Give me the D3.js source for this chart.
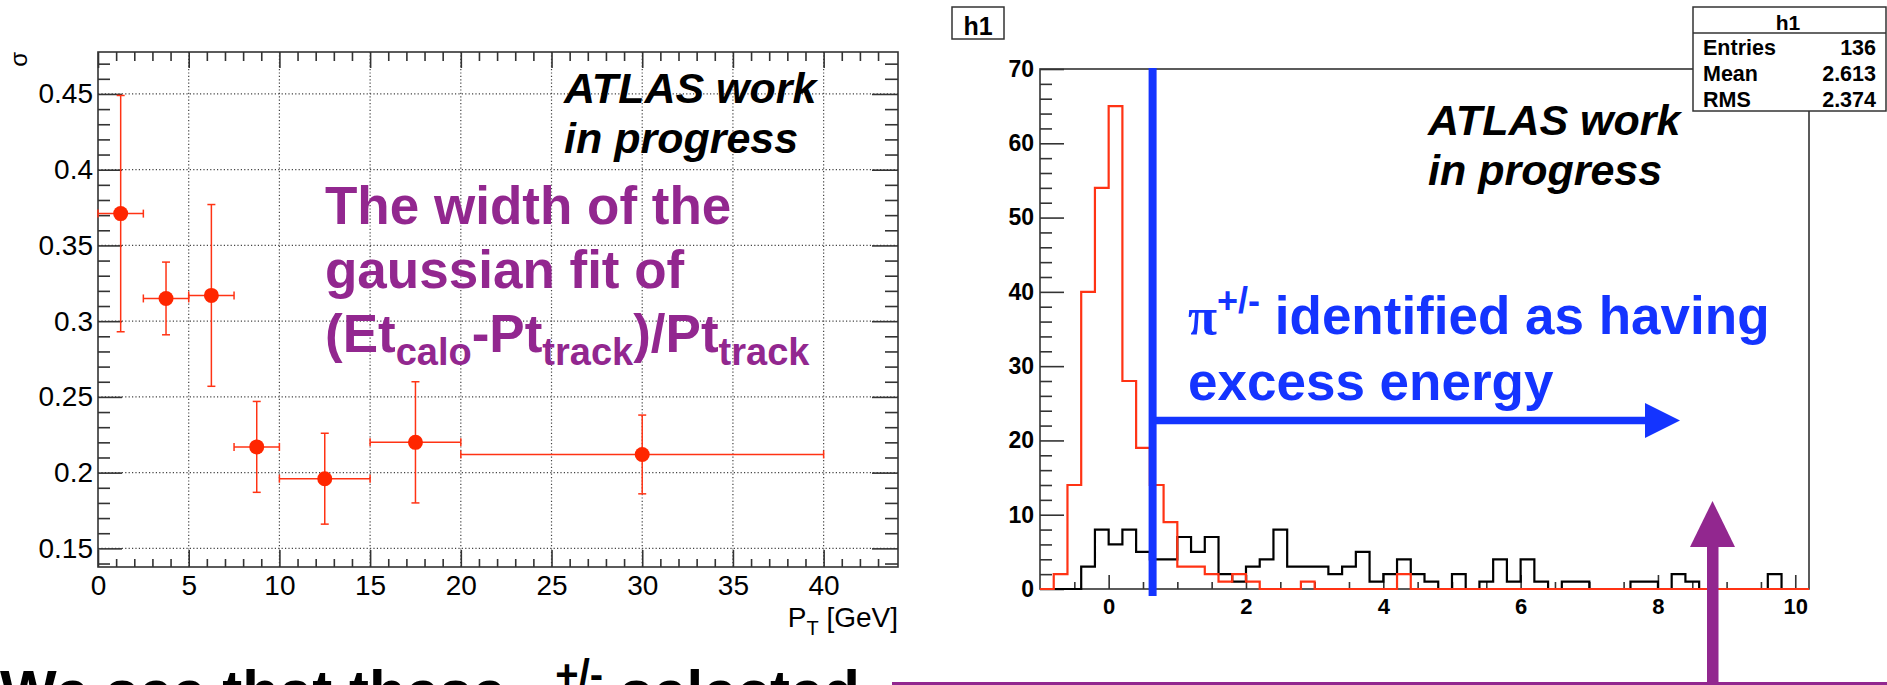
<!DOCTYPE html>
<html>
<head>
<meta charset="utf-8">
<script src="https://cdn.jsdelivr.net/npm/d3@7"></script>
<style>
  html, body { margin: 0; padding: 0; background: #fff; overflow: hidden; }
  svg { display: block; font-family: "Liberation Sans", Arial, sans-serif; }
</style>
</head>
<body>
<svg id="c" width="1887" height="685"></svg>
<script>
// ---- sigma of the gaussian fit, per pT bin ----
const ptCenters    = [1.25, 3.75, 6.25, 8.75, 12.5, 17.5, 30];
const ptHalfWidths = [1.25, 1.25, 1.25, 1.25, 2.5, 2.5, 10];
const sigmaValues  = [0.371, 0.315, 0.317, 0.217, 0.196, 0.220, 0.212];
const sigmaErrors  = [0.078, 0.024, 0.060, 0.030, 0.030, 0.040, 0.026];
const ptTicks      = [0, 5, 10, 15, 20, 25, 30, 35, 40];
const sigmaTicks   = [0.15, 0.2, 0.25, 0.3, 0.35, 0.4, 0.45];

// ---- h1: 0.2-wide bins from -1 to 10.2 ----
const histRange   = [-1, 10.2];
const redCounts   = [0, 2, 14, 40, 54, 65, 28, 19, 14, 9, 3, 3, 2, 1, 2, 1, 0, 0, 0, 1,
                     0, 0, 0, 0, 0, 0, 2, 0, 0, 0, 0, 0, 0, 0, 0, 0, 0, 0, 0, 0,
                     0, 0, 0, 0, 0, 0, 0, 0, 0, 0, 0, 0, 0, 0, 0, 0];
const blackCounts = [0, 0, 0, 3, 8, 6, 8, 5, 4, 4, 7, 5, 7, 2, 1, 3, 4, 8, 3, 3,
                     3, 2, 3, 5, 1, 2, 4, 2, 1, 0, 2, 0, 1, 4, 1, 4, 1, 0, 1, 1,
                     0, 0, 0, 1, 1, 0, 2, 1, 0, 0, 0, 0, 0, 2, 0, 0];
const histYTicks  = [0, 10, 20, 30, 40, 50, 60, 70];
const histXTicks  = [0, 2, 4, 6, 8, 10];
const statsRows   = [["Entries", "136"], ["Mean", "2.613"], ["RMS", "2.374"]];
const cutValue    = 0.64;   // selection threshold marked on h1

const RED = "#ff3314", PURPLE = "#92278f", BLUE = "#1434ff", FRAME = "#333";

const svg = d3.select("#c");
svg.append("rect").attr("width", 1887).attr("height", 685).attr("fill", "#fff");

// =================== left panel ===================
const L = { x0: 98, x1: 898, y0: 52, y1: 567 };
const xL = d3.scaleLinear().domain([0, 44.1]).range([L.x0, L.x1]);
const yL = d3.scaleLinear().domain([0.1377, 0.4777]).range([L.y1, L.y0]);

const left = svg.append("g");

// dotted grid
left.append("g").selectAll("line").data(ptTicks.filter(v => v > 0)).join("line")
  .attr("x1", d => xL(d)).attr("x2", d => xL(d)).attr("y1", L.y0).attr("y2", L.y1)
  .attr("stroke", "#444").attr("stroke-width", 1.2).attr("stroke-dasharray", "1.2,2.2");
left.append("g").selectAll("line").data(sigmaTicks).join("line")
  .attr("x1", L.x0).attr("x2", L.x1).attr("y1", d => yL(d)).attr("y2", d => yL(d))
  .attr("stroke", "#444").attr("stroke-width", 1.2).attr("stroke-dasharray", "1.2,2.2");

function styleAxis(g) {
  g.select(".domain").remove();
  g.selectAll(".tick line").attr("stroke", FRAME).attr("stroke-width", 1.6);
}
const minorPt = d3.range(1, 44, 1).filter(v => v % 5 !== 0);
const minorSigma = d3.range(14, 48, 1).map(v => v / 100).filter(v => Math.round(v * 100) % 5 !== 0);

// left y axis
left.append("g").attr("transform", `translate(${L.x0},0)`)
  .call(d3.axisLeft(yL).tickValues(sigmaTicks).tickSize(-24).tickPadding(5).tickFormat(d3.format("")))
  .call(styleAxis)
  .call(g => g.selectAll("text").attr("font-size", 28).attr("fill", "#000")
    .attr("font-family", "Liberation Sans, Arial, sans-serif"));
left.append("g").attr("transform", `translate(${L.x0},0)`)
  .call(d3.axisLeft(yL).tickValues(minorSigma).tickSize(-12).tickFormat(""))
  .call(styleAxis);
// right y axis
left.append("g").attr("transform", `translate(${L.x1},0)`)
  .call(d3.axisRight(yL).tickValues(sigmaTicks).tickSize(-26).tickFormat(""))
  .call(styleAxis);
left.append("g").attr("transform", `translate(${L.x1},0)`)
  .call(d3.axisRight(yL).tickValues(minorSigma).tickSize(-13).tickFormat(""))
  .call(styleAxis);
// bottom x axis
left.append("g").attr("transform", `translate(0,${L.y1})`)
  .call(d3.axisBottom(xL).tickValues(ptTicks).tickSize(-17).tickPadding(8).tickFormat(d3.format("d")))
  .call(styleAxis)
  .call(g => g.selectAll("text").attr("font-size", 28).attr("fill", "#000")
    .attr("font-family", "Liberation Sans, Arial, sans-serif"));
left.append("g").attr("transform", `translate(0,${L.y1})`)
  .call(d3.axisBottom(xL).tickValues(minorPt).tickSize(-8).tickFormat(""))
  .call(styleAxis);
// top x axis
left.append("g").attr("transform", `translate(0,${L.y0})`)
  .call(d3.axisTop(xL).tickValues(ptTicks).tickSize(-16).tickFormat(""))
  .call(styleAxis);
left.append("g").attr("transform", `translate(0,${L.y0})`)
  .call(d3.axisTop(xL).tickValues(minorPt).tickSize(-9).tickFormat(""))
  .call(styleAxis);

// frame
left.append("rect").attr("x", L.x0).attr("y", L.y0)
  .attr("width", L.x1 - L.x0).attr("height", L.y1 - L.y0)
  .attr("fill", "none").attr("stroke", FRAME).attr("stroke-width", 1.6);

// axis titles
left.append("text").attr("transform", `translate(27,${L.y0}) rotate(-90)`)
  .attr("text-anchor", "end").attr("font-size", 24).text("σ");
const xt = left.append("text").attr("x", L.x1).attr("y", 627).attr("text-anchor", "end")
  .attr("font-size", 28);
xt.append("tspan").text("P");
xt.append("tspan").attr("font-size", 20).attr("dy", 8).text("T");
xt.append("tspan").attr("dy", -8).text(" [GeV]");

// error bars and markers
const pts = ptCenters.map((x, i) => ({ x, hw: ptHalfWidths[i], y: sigmaValues[i], e: sigmaErrors[i] }));
const eb = left.append("g").attr("stroke", RED).attr("stroke-width", 1.5).attr("fill", "none");
const cap = 4;
pts.forEach(p => {
  const cx = xL(p.x), cy = yL(p.y);
  const xa = xL(p.x - p.hw), xb = xL(p.x + p.hw), ya = yL(p.y + p.e), yb = yL(p.y - p.e);
  eb.append("line").attr("x1", xa).attr("x2", xb).attr("y1", cy).attr("y2", cy);
  eb.append("line").attr("x1", cx).attr("x2", cx).attr("y1", ya).attr("y2", yb);
  eb.append("line").attr("x1", xa).attr("x2", xa).attr("y1", cy - cap).attr("y2", cy + cap);
  eb.append("line").attr("x1", xb).attr("x2", xb).attr("y1", cy - cap).attr("y2", cy + cap);
  eb.append("line").attr("x1", cx - cap).attr("x2", cx + cap).attr("y1", ya).attr("y2", ya);
  eb.append("line").attr("x1", cx - cap).attr("x2", cx + cap).attr("y1", yb).attr("y2", yb);
});
left.append("g").selectAll("circle").data(pts).join("circle")
  .attr("cx", d => xL(d.x)).attr("cy", d => yL(d.y)).attr("r", 7.5).attr("fill", "#ff2600");

// labels
const atlasL = left.append("text").attr("font-size", 43).attr("font-weight", "bold")
  .attr("font-style", "italic").attr("fill", "#000");
atlasL.append("tspan").attr("x", 564).attr("y", 103).text("ATLAS work");
atlasL.append("tspan").attr("x", 564).attr("y", 153).text("in progress");

const purple = left.append("text").attr("font-size", 53).attr("font-weight", "bold").attr("fill", PURPLE);
purple.append("tspan").attr("x", 325).attr("y", 224).text("The width of the");
purple.append("tspan").attr("x", 325).attr("y", 288).text("gaussian fit of");
const l3 = left.append("text").attr("x", 325).attr("y", 352).attr("font-size", 53)
  .attr("font-weight", "bold").attr("fill", PURPLE);
l3.append("tspan").text("(Et");
l3.append("tspan").attr("font-size", 38).attr("dy", 13).text("calo");
l3.append("tspan").attr("dy", -13).text("-Pt");
l3.append("tspan").attr("font-size", 38).attr("dy", 13).text("track");
l3.append("tspan").attr("dy", -13).text(")/Pt");
l3.append("tspan").attr("font-size", 38).attr("dy", 13).text("track");

// =================== right panel: h1 ===================
const H = { x0: 1040, x1: 1809, y0: 69, y1: 589 };
const xH = d3.scaleLinear().domain(histRange).range([H.x0, H.x1]);
const yH = d3.scaleLinear().domain([0, 70]).range([H.y1, H.y0]);
const binW = (histRange[1] - histRange[0]) / redCounts.length;

const right = svg.append("g");

// "h1" title box
right.append("rect").attr("x", 952).attr("y", 7).attr("width", 52).attr("height", 32)
  .attr("fill", "#fff").attr("stroke", FRAME).attr("stroke-width", 1.5);
right.append("text").attr("x", 978).attr("y", 35).attr("text-anchor", "middle")
  .attr("font-size", 25).attr("font-weight", "bold").text("h1");

svg.append("defs").append("clipPath").attr("id", "hclip")
  .append("rect").attr("x", H.x0).attr("y", H.y0 - 2).attr("width", H.x1 - H.x0).attr("height", H.y1 - H.y0 + 3);

// frame
right.append("rect").attr("x", H.x0).attr("y", H.y0)
  .attr("width", H.x1 - H.x0).attr("height", H.y1 - H.y0)
  .attr("fill", "none").attr("stroke", FRAME).attr("stroke-width", 1.6);

// axes
right.append("g").attr("transform", `translate(${H.x0},0)`)
  .call(d3.axisLeft(yH).tickValues(histYTicks).tickSize(-24).tickPadding(6).tickFormat(d3.format("d")))
  .call(styleAxis)
  .call(g => g.selectAll("text").attr("font-size", 23).attr("font-weight", "bold").attr("fill", "#000")
    .attr("font-family", "Liberation Sans, Arial, sans-serif"));
right.append("g").attr("transform", `translate(${H.x0},0)`)
  .call(d3.axisLeft(yH).tickValues(d3.range(2, 70, 2).filter(v => v % 10 !== 0)).tickSize(-12).tickFormat(""))
  .call(styleAxis);
right.append("g").attr("transform", `translate(0,${H.y1})`)
  .call(d3.axisBottom(xH).tickValues(histXTicks).tickSize(-14).tickPadding(9).tickFormat(d3.format("d")))
  .call(styleAxis)
  .call(g => g.selectAll("text").attr("font-size", 22).attr("font-weight", "bold").attr("fill", "#000")
    .attr("font-family", "Liberation Sans, Arial, sans-serif"));
right.append("g").attr("transform", `translate(0,${H.y1})`)
  .call(d3.axisBottom(xH).tickValues(d3.range(-0.5, 10.01, 0.5).filter(v => v % 2 !== 0)).tickSize(-7).tickFormat(""))
  .call(styleAxis);

// step outlines
function stepPoints(counts) {
  const p = counts.map((c, i) => [histRange[0] + i * binW, c]);
  p.push([histRange[1], counts[counts.length - 1]]);
  return p;
}
const step = d3.line().x(d => xH(d[0])).y(d => yH(d[1])).curve(d3.curveStepAfter);
const hg = right.append("g").attr("clip-path", "url(#hclip)");
hg.append("path").attr("d", step(stepPoints(blackCounts)))
  .attr("fill", "none").attr("stroke", "#000").attr("stroke-width", 2.2);
hg.append("path").attr("d", step(stepPoints(redCounts)))
  .attr("fill", "none").attr("stroke", RED).attr("stroke-width", 2.2);

// stats box
const sb = right.append("g");
sb.append("rect").attr("x", 1693).attr("y", 7).attr("width", 193).attr("height", 104)
  .attr("fill", "#fff").attr("stroke", FRAME).attr("stroke-width", 1.5);
sb.append("line").attr("x1", 1693).attr("x2", 1886).attr("y1", 33).attr("y2", 33)
  .attr("stroke", FRAME).attr("stroke-width", 1.5);
sb.append("text").attr("x", 1788).attr("y", 30).attr("text-anchor", "middle")
  .attr("font-size", 21).attr("font-weight", "bold").text("h1");
statsRows.forEach((r, i) => {
  const y = 55 + i * 26;
  sb.append("text").attr("x", 1703).attr("y", y).attr("font-size", 21.5).attr("font-weight", "bold").text(r[0]);
  sb.append("text").attr("x", 1876).attr("y", y).attr("text-anchor", "end")
    .attr("font-size", 21.5).attr("font-weight", "bold").text(r[1]);
});

// ATLAS label
const atlasR = right.append("text").attr("font-size", 43).attr("font-weight", "bold")
  .attr("font-style", "italic").attr("fill", "#000");
atlasR.append("tspan").attr("x", 1428).attr("y", 135).text("ATLAS work");
atlasR.append("tspan").attr("x", 1428).attr("y", 185).text("in progress");

// threshold line and arrow
const cutX = xH(cutValue);
right.append("line").attr("x1", cutX).attr("x2", cutX).attr("y1", H.y0 - 1).attr("y2", 596)
  .attr("stroke", BLUE).attr("stroke-width", 8);
right.append("line").attr("x1", cutX).attr("x2", 1646).attr("y1", 420.5).attr("y2", 420.5)
  .attr("stroke", BLUE).attr("stroke-width", 7.5);
right.append("path").attr("d", "M1645,403 L1680,420.5 L1645,438 Z").attr("fill", BLUE);

const blue1 = right.append("text").attr("x", 1188).attr("y", 334).attr("font-size", 53)
  .attr("font-weight", "bold").attr("fill", BLUE);
blue1.append("tspan").attr("font-family", "Liberation Serif, DejaVu Serif, serif").text("π");
blue1.append("tspan").attr("font-size", 36).attr("dy", -21).text("+/-");
blue1.append("tspan").attr("dy", 21).text(" identified as having");
right.append("text").attr("x", 1188).attr("y", 400).attr("font-size", 53)
  .attr("font-weight", "bold").attr("fill", BLUE).text("excess energy");

// purple pointer
svg.append("line").attr("x1", 892).attr("x2", 1887).attr("y1", 683.5).attr("y2", 683.5)
  .attr("stroke", PURPLE).attr("stroke-width", 3);
svg.append("rect").attr("x", 1707).attr("y", 545).attr("width", 11.5).attr("height", 145).attr("fill", PURPLE);
svg.append("path").attr("d", "M1712.5,501 L1735,547 L1690,547 Z").attr("fill", PURPLE);

// bottom caption (runs past the lower edge)
const cap2 = svg.append("text").attr("x", 0).attr("y", 712).attr("font-size", 60)
  .attr("font-weight", "bold").attr("fill", "#000");
cap2.append("tspan").text("We see that these ");
cap2.append("tspan").attr("font-family", "Liberation Serif, DejaVu Serif, serif").text("π");
cap2.append("tspan").attr("font-size", 40).attr("dy", -24).text("+/-");
cap2.append("tspan").attr("dy", 24).text(" selected");
</script>
</body>
</html>
